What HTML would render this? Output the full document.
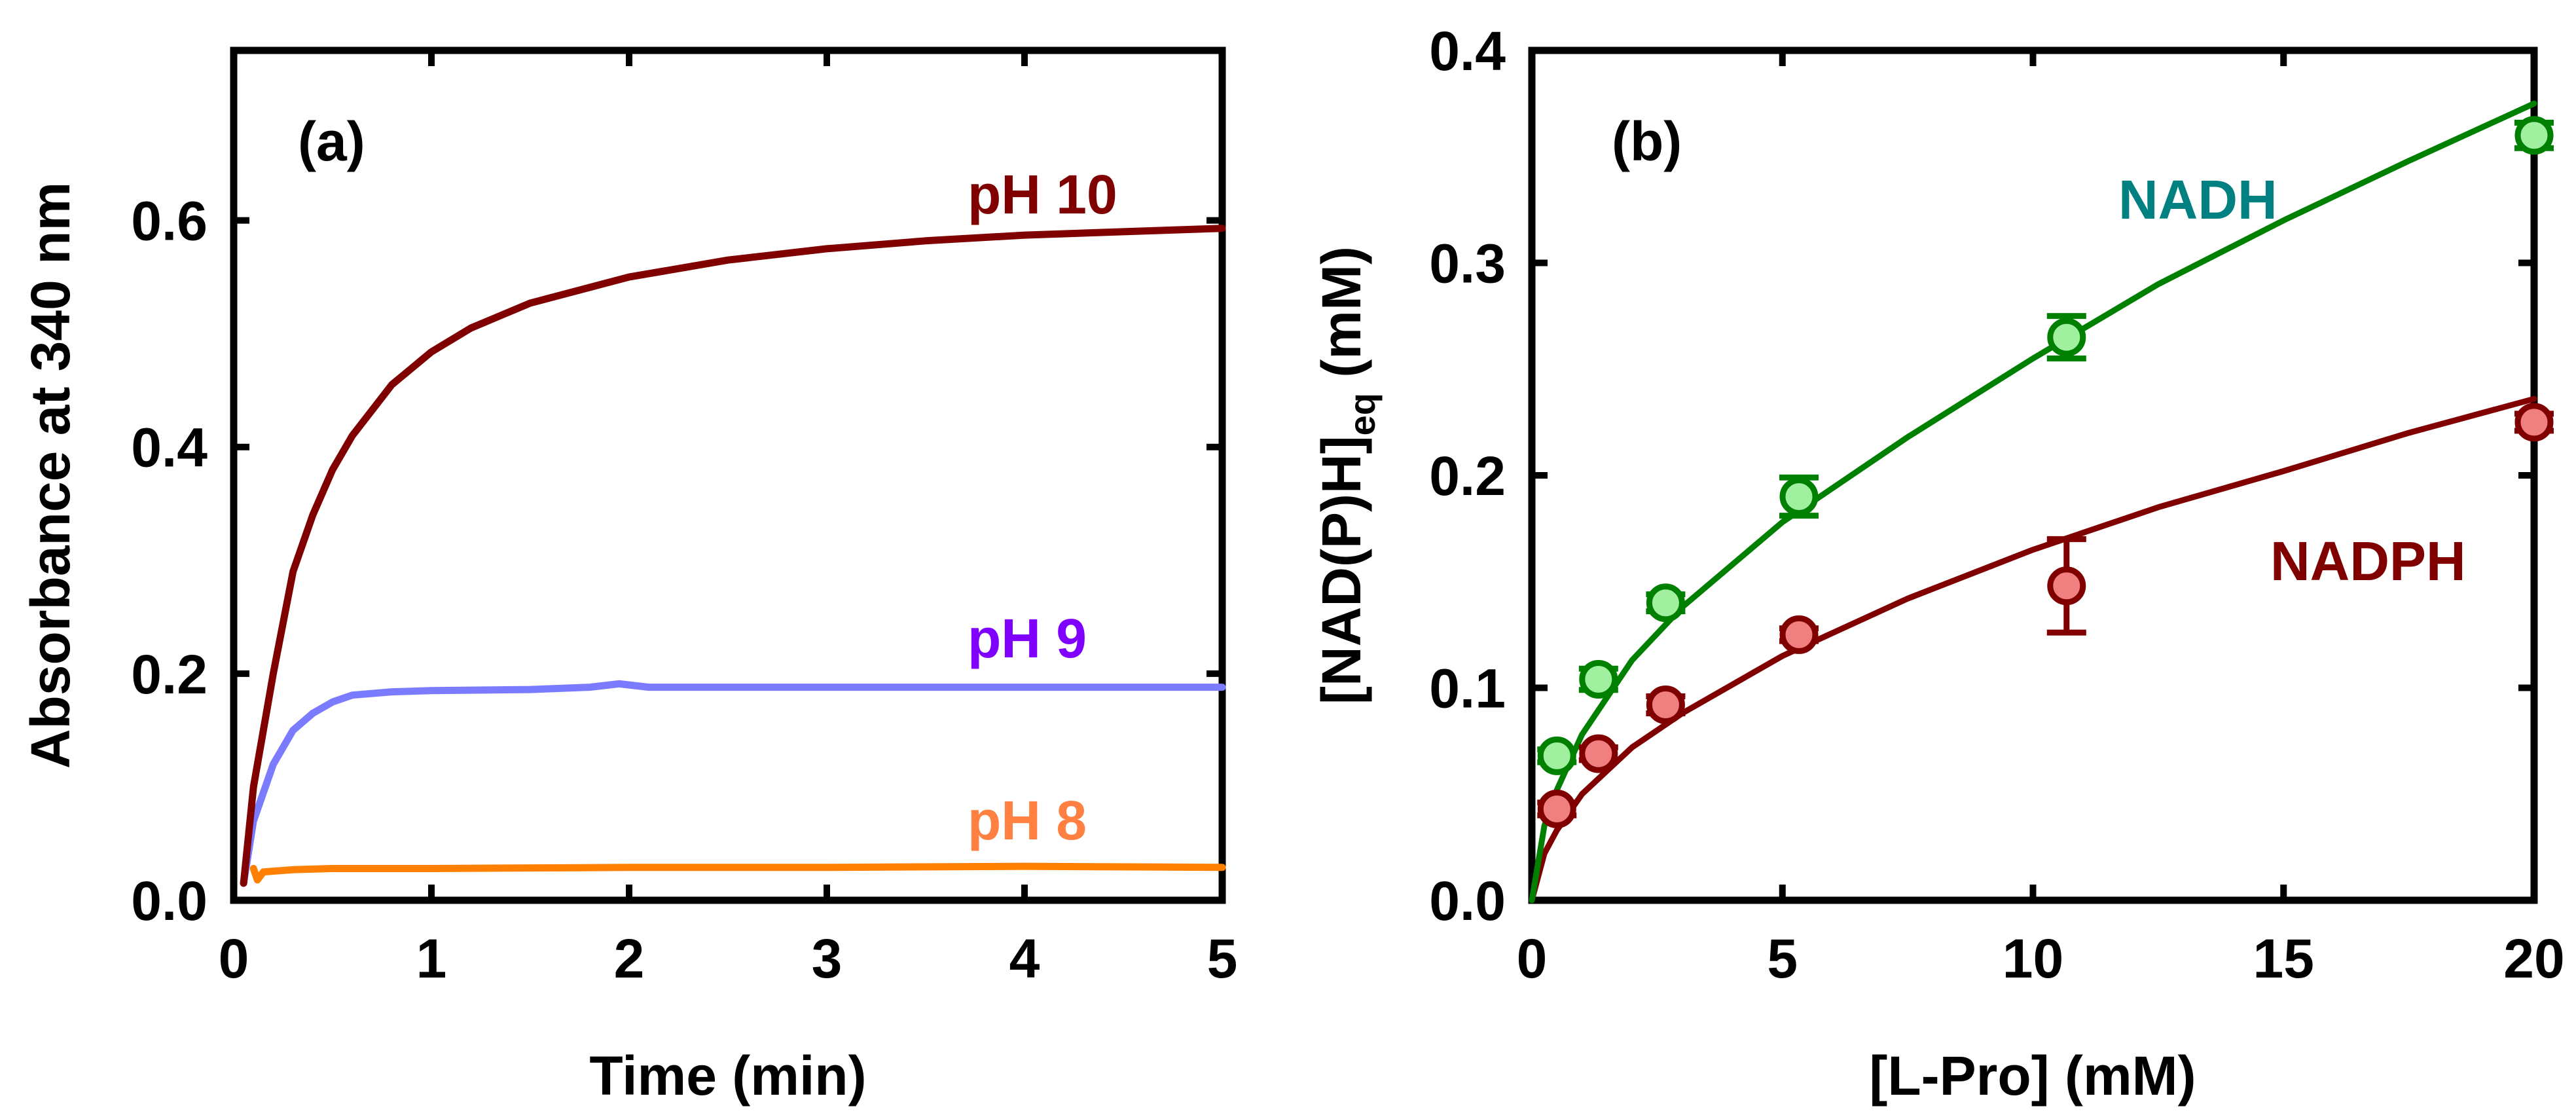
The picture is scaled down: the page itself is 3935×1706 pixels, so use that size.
<!DOCTYPE html>
<html><head><meta charset="utf-8"><style>
html,body{margin:0;padding:0;background:#fff;width:3935px;height:1706px;overflow:hidden}
svg text{font-family:"Liberation Sans",Arial,sans-serif;font-weight:bold}
</style></head><body>
<svg id="c" width="3935" height="1706" xmlns="http://www.w3.org/2000/svg"></svg>
<script>
// Panel (a) data
const tA_pH10=[0.05,0.1,0.2,0.3,0.4,0.5,0.6,0.8,1.0,1.2,1.5,2,2.5,3,3.5,4,4.5,5];
const A_pH10=[0.015,0.1,0.2,0.29,0.34,0.38,0.41,0.455,0.484,0.505,0.527,0.55,0.565,0.575,0.582,0.587,0.59,0.593];
const tA_pH9=[0.05,0.1,0.2,0.3,0.4,0.5,0.6,0.8,1,1.5,1.8,1.95,2.1,2.5,3,4,5];
const A_pH9=[0.015,0.07,0.12,0.15,0.165,0.175,0.181,0.184,0.185,0.186,0.188,0.191,0.188,0.188,0.188,0.188,0.188];
const tA_pH8=[0.1,0.12,0.15,0.3,0.5,1,2,3,4,5];
const A_pH8=[0.028,0.018,0.025,0.027,0.028,0.028,0.029,0.029,0.030,0.029];
const xTicksA=[0,1,2,3,4,5];
const yTicksA=[0,0.2,0.4,0.6];
const yLabelsA=["0.0","0.2","0.4","0.6"];
// Panel (b) data
const proX=[0.5,1.33,2.67,5.33,10.67,20];
const nadh=[0.068,0.104,0.140,0.190,0.265,0.360];
const nadhErr=[0.003,0.005,0.004,0.009,0.010,0.006];
const nadph=[0.043,0.069,0.092,0.125,0.148,0.225];
const nadphErr=[0.003,0.003,0.004,0.003,0.022,0.004];
const fitX=[0,0.25,0.5,1,2,3,5,7.5,10,12.5,15,17.5,20];
const fitNadh=[0,0.035,0.052,0.078,0.113,0.138,0.178,0.218,0.255,0.290,0.320,0.348,0.375];
const fitNadph=[0,0.022,0.033,0.05,0.072,0.088,0.115,0.142,0.165,0.185,0.202,0.220,0.236];
const xTicksB=[0,5,10,15,20];
const yTicksB=[0,0.1,0.2,0.3,0.4];
const yLabelsB=["0.0","0.1","0.2","0.3","0.4"];

const NS="http://www.w3.org/2000/svg";
const svg=document.getElementById('c');
function el(tag,attrs,parent,txt){const e=document.createElementNS(NS,tag);for(const k in attrs)e.setAttribute(k,attrs[k]);if(txt!==undefined)e.textContent=txt;(parent||svg).appendChild(e);return e;}

function panel(L,R,T,B,xmax,ymax,xt,yt,yl,name){
  const sx=v=>L+(R-L)*v/xmax, sy=v=>B-(B-T)*v/ymax;
  const g=el('g',{});
  
  
  xt.forEach(v=>{
    const t=el('line',{x1:sx(v),x2:sx(v),y1:B,y2:B-24,stroke:'#000','stroke-width':10},g);
    
    
    el('line',{x1:sx(v),x2:sx(v),y1:T,y2:T+24,stroke:'#000','stroke-width':10},g);
    const lb=el('text',{x:sx(v),y:B+118,'font-size':84,'text-anchor':'middle'},g,String(v));
    
    
  });
  yt.forEach((v,i)=>{
    const t=el('line',{x1:L,x2:L+24,y1:sy(v),y2:sy(v),stroke:'#000','stroke-width':10},g);
    
    
    el('line',{x1:R,x2:R-24,y1:sy(v),y2:sy(v),stroke:'#000','stroke-width':10},g);
    const lb=el('text',{x:L-40,y:sy(v)+30,'font-size':84,'text-anchor':'end'},g,yl[i]);
    
    
  });
  const fr=el('rect',{x:L,y:T,width:R-L,height:B-T,fill:'none',stroke:'#000','stroke-width':11},g);
  
  
  return {sx,sy,g};
}
function line(p,xs,ys,color,w,name){
  const d=xs.map((x,i)=>(i?'L':'M')+p.sx(x).toFixed(1)+','+p.sy(ys[i]).toFixed(1)).join(' ');
  const e=el('path',{d,fill:'none',stroke:color,'stroke-width':w,'stroke-linejoin':'round','stroke-linecap':'round'});
  
  
}

// Panel A
const pa=panel(357,1867,77,1375,5,0.75,xTicksA,yTicksA,yLabelsA,'panel-a');
line(pa,tA_pH8,A_pH8,'#ff8000',11,'ph8-curve');
line(pa,tA_pH9,A_pH9,'#7b7bff',11,'ph9-curve');
line(pa,tA_pH10,A_pH10,'#800000',11,'ph10-curve');
function text(x,y,s,size,color,name,anchor,rot){
  const a={x,y,'font-size':size,fill:color,'text-anchor':anchor||'start'};
  if(rot)a.transform=rot;
  const e=el('text',a,svg,s);
  
  
  return e;
}
text(455,245,'(a)',84,'#000','panel-a-label');
text(1478,326,'pH 10',84,'#800000','ph10-label');
text(1478,1004,'pH 9',84,'#8000ff','ph9-label');
text(1478,1282,'pH 8',84,'#ff8040','ph8-label');
text(1112,1672,'Time (min)',84,'#000','x-axis-title-a','middle');
text(106,726,'Absorbance at 340 nm',84,'#000','y-axis-title-a','middle','rotate(-90 106 726)');

// Panel B
const pb=panel(2340,3871,77,1375,20,0.4,xTicksB,yTicksB,yLabelsB,'panel-b');
line(pb,fitX,fitNadph,'#800000',9,'nadph-fit');
line(pb,fitX,fitNadh,'#008000',9,'nadh-fit');
function points(p,xs,ys,es,fill,stroke,name){
  xs.forEach((x,i)=>{
    const cx=p.sx(x),cy=p.sy(ys[i]),yt=p.sy(ys[i]+es[i]),yb=p.sy(ys[i]-es[i]);
    const g=el('g',{});
    
    
    el('line',{x1:cx,x2:cx,y1:yt,y2:yb,stroke,'stroke-width':9},g);
    el('line',{x1:cx-30,x2:cx+30,y1:yt,y2:yt,stroke,'stroke-width':9},g);
    el('line',{x1:cx-30,x2:cx+30,y1:yb,y2:yb,stroke,'stroke-width':9},g);
    el('circle',{cx,cy,r:25,fill,stroke,'stroke-width':9},g);
  });
}
points(pb,proX,nadph,nadphErr,'#f08080','#800000','nadph-point');
points(pb,proX,nadh,nadhErr,'#a0f0a0','#008000','nadh-point');
text(2462,245,'(b)',84,'#000','panel-b-label');
text(3236,334,'NADH',84,'#008080','nadh-label');
text(3468,886,'NADPH',84,'#800000','nadph-label');
text(3105,1672,'[L-Pro] (mM)',84,'#000','x-axis-title-b','middle');
const yt=el('text',{x:2078,y:726,'font-size':84,'text-anchor':'middle',transform:'rotate(-90 2078 726)'});


el('tspan',{},yt,'[NAD(P)H]');
el('tspan',{'font-size':56,dy:22},yt,'eq');
el('tspan',{dy:-22},yt,' (mM)');
</script>
</body></html>
